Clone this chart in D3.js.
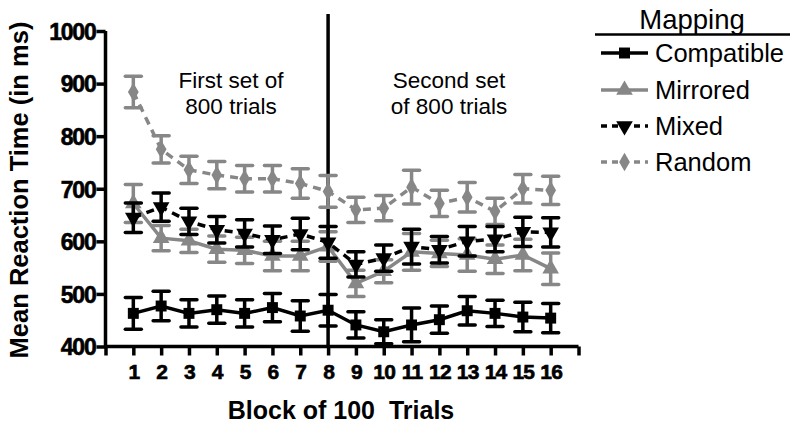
<!DOCTYPE html>
<html>
<head>
<meta charset="utf-8">
<script src="https://cdn.jsdelivr.net/npm/d3@7"></script>
<style>
  body { margin: 0; background: #fff; }
  text { font-family: "Liberation Sans", Arial, sans-serif; }
</style>
</head>
<body>
<script>
const width = 790, height = 424;

// data
const blocks = d3.range(1, 17);
const compatible = [463, 477, 463, 470, 463, 474, 458, 469, 441, 428, 441, 451, 468, 463, 456, 454];
const compatibleSem = [30, 28, 26, 26, 26, 27, 29, 30, 25, 23, 32, 26, 27, 25, 28, 28];
const mirrored = [672, 606, 601, 585, 583, 572, 572, 590, 520, 543, 580, 577, 574, 566, 574, 548];
const mirroredSem = [36, 24, 22, 25, 25, 28, 28, 28, 25, 22, 35, 25, 31, 27, 30, 30];
const mixed = [645, 665, 638, 622, 615, 603, 614, 598, 556, 568, 590, 584, 600, 604, 618, 617];
const mixedSem = [28, 27, 25, 25, 26, 26, 30, 30, 24, 25, 33, 25, 28, 24, 28, 28];
const random = [884, 775, 736, 726, 719, 719, 710, 695, 660, 663, 703, 672, 684, 657, 700, 697];
const randomSem = [30, 26, 26, 26, 25, 25, 28, 30, 24, 24, 32, 25, 28, 25, 27, 27];
const yTicks = [400, 500, 600, 700, 800, 900, 1000];
const seriesNames = ["Compatible", "Mirrored", "Mixed", "Random"];

const gray = "#878787";
const series = [
  { name: "Random", values: random, sem: randomSem, color: gray, dash: "8,6", symbol: d3.symbolDiamond, rot: 0 },
  { name: "Mirrored", values: mirrored, sem: mirroredSem, color: gray, dash: null, symbol: d3.symbolTriangle, rot: 0 },
  { name: "Mixed", values: mixed, sem: mixedSem, color: "#000", dash: "8,6", symbol: d3.symbolTriangle, rot: 180 },
  { name: "Compatible", values: compatible, sem: compatibleSem, color: "#000", dash: null, symbol: d3.symbolSquare, rot: 0 }
];

const svg = d3.select("body").append("svg").attr("width", width).attr("height", height);

const x = d3.scaleLinear().domain([0, 17]).range([105.5, 578.5]);
const y = d3.scaleLinear().domain([400, 1000]).range([346.5, 31]);

// axes
const xAxis = svg.append("g").attr("transform", `translate(0, ${y(400)})`)
  .call(d3.axisBottom(x).tickValues(d3.range(0, 18)).tickSize(9).tickPadding(9)
    .tickFormat(d => (d >= 1 && d <= 16) ? d : ""));
const yAxis = svg.append("g").attr("transform", `translate(${x(0)}, 0)`)
  .call(d3.axisLeft(y).tickValues(yTicks).tickSize(9).tickPadding(1).tickFormat(d3.format("d")));

[xAxis, yAxis].forEach(g => {
  g.select(".domain").attr("stroke", "#000").attr("stroke-width", 3.5)
    .attr("d", g === xAxis ? `M${x(0)},0H${x(17)}` : `M0,${y(1000)}V${y(400)}`);
  g.selectAll(".tick line").attr("stroke", "#000").attr("stroke-width", 3.5);
  g.selectAll(".tick text").attr("fill", "#000").attr("font-weight", "bold")
    .attr("stroke", "#000").attr("stroke-width", 0.6)
    .attr("font-family", "Liberation Sans, Arial, sans-serif");
});
xAxis.selectAll(".tick text").attr("font-size", 21).attr("letter-spacing", -0.8);
yAxis.selectAll(".tick text").attr("font-size", 23).attr("dy", "0.36em").attr("letter-spacing", -1.2);

// divider between the two sets of trials
svg.append("line")
  .attr("x1", x(8)).attr("x2", x(8)).attr("y1", 14).attr("y2", y(400))
  .attr("stroke", "#000").attr("stroke-width", 3.5);

// series
const line = d3.line().x((d, i) => x(blocks[i])).y(d => y(d));
series.forEach(s => {
  const g = svg.append("g");
  g.append("path").datum(s.values)
    .attr("d", line).attr("fill", "none")
    .attr("stroke", s.color).attr("stroke-width", 3.5)
    .attr("stroke-dasharray", s.dash);
  const bars = g.selectAll(".eb").data(s.values).enter().append("g");
  bars.append("line")
    .attr("x1", (d, i) => x(blocks[i])).attr("x2", (d, i) => x(blocks[i]))
    .attr("y1", (d, i) => y(d + s.sem[i])).attr("y2", (d, i) => y(d - s.sem[i]))
    .attr("stroke", s.color).attr("stroke-width", 3.5);
  [1, -1].forEach(sign => {
    bars.append("line")
      .attr("x1", (d, i) => x(blocks[i]) - 8).attr("x2", (d, i) => x(blocks[i]) + 8)
      .attr("y1", (d, i) => y(d + sign * s.sem[i])).attr("y2", (d, i) => y(d + sign * s.sem[i]))
      .attr("stroke", s.color).attr("stroke-width", 3.5).attr("stroke-linecap", "round");
  });
  g.selectAll(".pt").data(s.values).enter().append("path")
    .attr("d", d3.symbol().type(s.symbol).size(s.symbol === d3.symbolDiamond ? 100 : 120))
    .attr("transform", (d, i) => `translate(${x(blocks[i])}, ${y(d)}) rotate(${s.rot})`)
    .attr("fill", s.color);
});

// annotations
const notes = [
  { lines: ["First set of", "800 trials"], x: 231 },
  { lines: ["Second set", "of 800 trials"], x: 449 }
];
notes.forEach(n => {
  n.lines.forEach((t, i) => {
    svg.append("text").attr("x", n.x).attr("y", 88 + i * 26)
      .attr("text-anchor", "middle").attr("font-size", 22.5).text(t);
  });
});

// axis titles
svg.append("text")
  .attr("transform", `translate(28, 190) rotate(-90)`)
  .attr("text-anchor", "middle").attr("font-size", 25.5).attr("font-weight", "bold")
  .text("Mean Reaction Time (in ms)");
svg.append("text")
  .attr("x", 341).attr("y", 419)
  .attr("text-anchor", "middle").attr("font-size", 25).attr("font-weight", "bold")
  .style("white-space", "pre").attr("xml:space", "preserve")
  .text("Block of 100  Trials");

// legend
const legend = svg.append("g");
legend.append("text").attr("x", 692).attr("y", 29).attr("text-anchor", "middle")
  .attr("font-size", 27.5).text("Mapping");
legend.append("line").attr("x1", 595).attr("x2", 790).attr("y1", 34.5).attr("y2", 34.5)
  .attr("stroke", "#000").attr("stroke-width", 2.5);
const legendY = [53, 90, 126, 162];
seriesNames.forEach((name, i) => {
  const s = series.find(d => d.name === name);
  const item = legend.append("g").attr("transform", `translate(0, ${legendY[i]})`);
  item.append("line").attr("x1", 601).attr("x2", 648).attr("y1", 0).attr("y2", 0)
    .attr("stroke", s.color).attr("stroke-width", 3.5).attr("stroke-dasharray", s.dash ? "6,5" : null);
  item.append("path")
    .attr("d", d3.symbol().type(s.symbol).size(s.symbol === d3.symbolDiamond ? 100 : 120))
    .attr("transform", `translate(624.5, 0) rotate(${s.rot})`)
    .attr("fill", s.color);
  item.append("text").attr("x", 655).attr("y", 0).attr("dy", "0.35em")
    .attr("font-size", 25.5).text(name);
});
</script>
</body>
</html>
